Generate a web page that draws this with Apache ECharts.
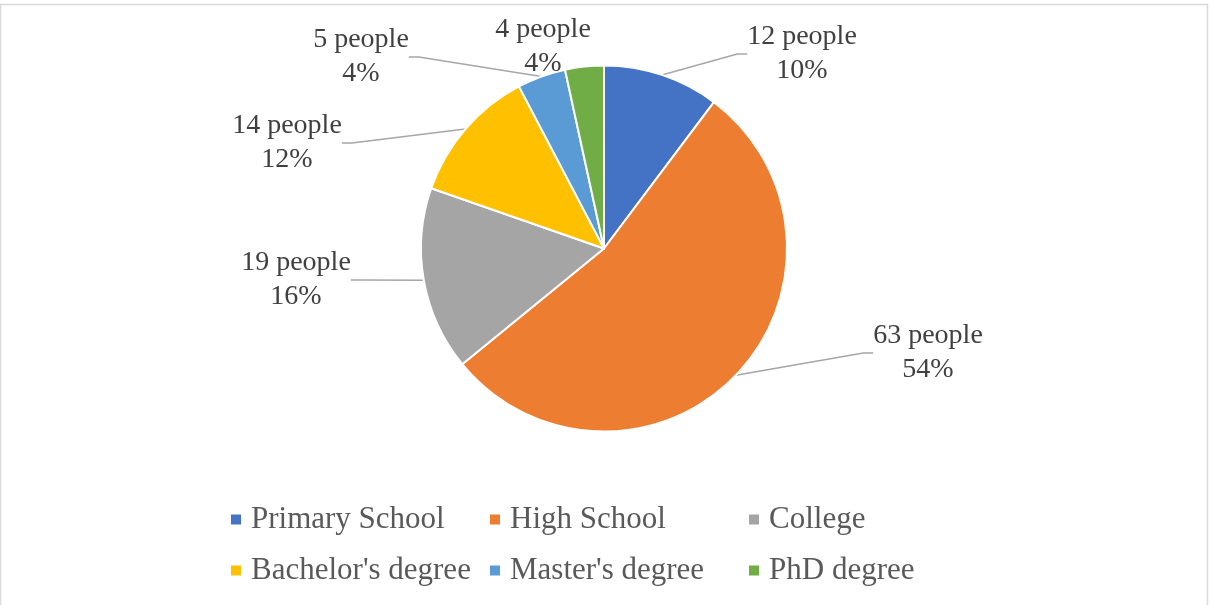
<!DOCTYPE html>
<html>
<head>
<meta charset="utf-8">
<script src="https://cdn.jsdelivr.net/npm/echarts@6/dist/echarts.min.js"></script>
<style>
  html, body { margin: 0; padding: 0; background: #ffffff; }
  #chart { width: 1213px; height: 605px; }
</style>
</head>
<body>
<div id="chart"></div>
<script>
// Education level of respondents
const categories = ["Primary School", "High School", "College", "Bachelor's degree", "Master's degree", "PhD degree"];
const people = [12, 63, 19, 14, 5, 4];
const percentLabels = ["10%", "54%", "16%", "12%", "4%", "4%"];
const colors = ["#4472C4", "#ED7D31", "#A5A5A5", "#FFC000", "#5B9BD5", "#70AD47"];

// Where each data label sits (centre of the two-line text block)
const labelSpots = [
  [802, 54], [928, 353], [296, 280], [287, 143], [361, 57], [543, 47]
];

const chart = echarts.init(document.getElementById('chart'), null, { renderer: 'canvas' });

const seriesData = categories.map((name, i) => {
  const item = { name: name, value: people[i], itemStyle: { color: colors[i] } };
  if (i === 5) item.labelLine = { show: false };
  return item;
});

chart.setOption({
  backgroundColor: '#ffffff',
  animation: false,
  graphic: [{
    type: 'rect',
    silent: true,
    shape: { x: 0.5, y: 4.5, width: 1207, height: 640 },
    style: { fill: 'none', stroke: '#d9d9d9', lineWidth: 1.5 }
  }],
  legend: {
    left: 229,
    top: 499,
    width: 780,
    padding: 0,
    orient: 'horizontal',
    icon: 'rect',
    itemWidth: 12,
    itemHeight: 12,
    itemGap: 10,
    data: categories,
    textStyle: {
      fontFamily: 'Liberation Serif',
      fontSize: 31,
      color: '#595959',
      width: 227,
      lineHeight: 41,
      padding: [0, 0, 0, 4]
    }
  },
  series: [{
    type: 'pie',
    center: [604, 248.5],
    radius: 183,
    startAngle: 90,
    clockwise: true,
    avoidLabelOverlap: false,
    itemStyle: { borderColor: '#ffffff', borderWidth: 2 },
    label: {
      show: true,
      position: 'outside',
      fontFamily: 'Liberation Serif',
      fontSize: 28,
      lineHeight: 34,
      color: '#404040',
      align: 'center',
      formatter: (p) => p.value + ' people\n' + percentLabels[p.dataIndex]
    },
    labelLine: {
      show: true,
      length: 10,
      length2: 10,
      lineStyle: { color: '#A6A6A6', width: 1.5 }
    },
    labelLayout: (params) => {
      const s = labelSpots[params.dataIndex];
      return { x: s[0], y: s[1], align: 'center', verticalAlign: 'middle' };
    },
    emphasis: { disabled: true },
    data: seriesData
  }]
});
</script>
</body>
</html>
